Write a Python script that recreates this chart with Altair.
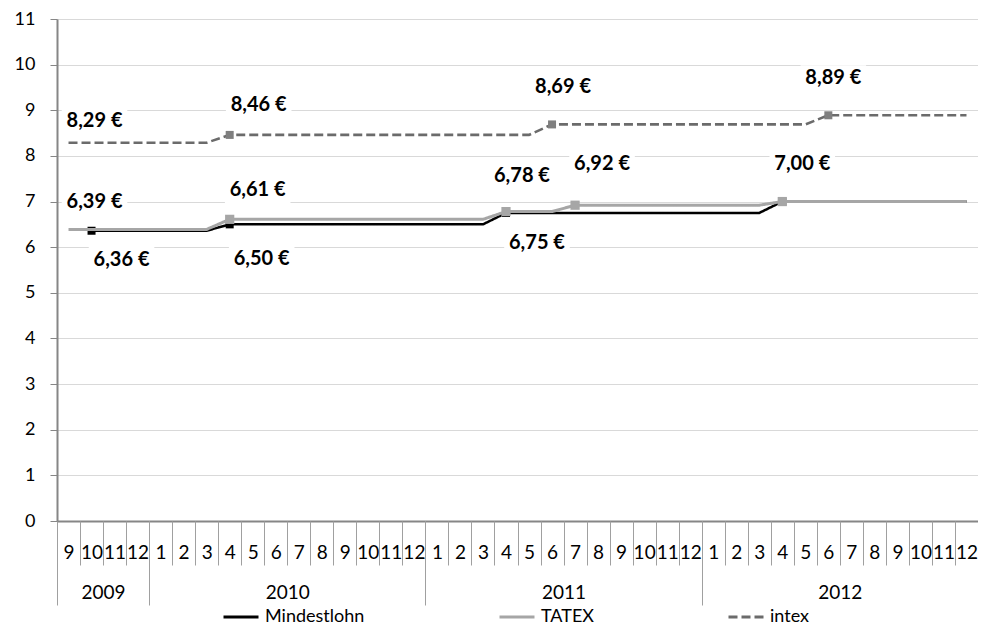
import altair as alt
import pandas as pd

# ---------------- data ----------------
MONTHS = ["9", "10", "11", "12"] + [str(m) for m in range(1, 13)] * 3
YEARS = ["2009", "2010", "2011", "2012"]
YEAR_SPANS = [4, 12, 12, 12]
SERIES = ["Mindestlohn", "TATEX", "intex"]
MINDESTLOHN = [None] + [6.36] * 6 + [6.50] * 12 + [6.75] * 12 + [7.00] * 9
TATEX = [6.39] * 7 + [6.61] * 12 + [6.78] * 3 + [6.92] * 9 + [7.00] * 9
INTEX = [8.29] * 7 + [8.46] * 14 + [8.69] * 12 + [8.89] * 7
MARKER_IDX = {"Mindestlohn": [1, 7, 19, 31], "TATEX": [7, 19, 22, 31], "intex": [7, 21, 33]}
# labelled points: (series, month index)
LABEL_POINTS = [("intex", 0), ("intex", 7), ("intex", 21), ("intex", 33),
                ("TATEX", 0), ("TATEX", 7), ("TATEX", 19), ("TATEX", 22), ("TATEX", 31),
                ("Mindestlohn", 1), ("Mindestlohn", 7), ("Mindestlohn", 19)]

# ---------------- styles ----------------
LABEL_OFFSETS = [(26, -22), (29, -30), (11, -37), (5, -37),
                 (26, -27), (28, -29), (16, -36), (27, -41), (20, -38),
                 (30, 29), (32, 35), (31, 30)]
COLORS = {"Mindestlohn": "#000000", "TATEX": "#a6a6a6", "intex": "#6b6b6b"}
MARKER_COLORS = {"Mindestlohn": "#000000", "TATEX": "#a6a6a6", "intex": "#7f7f7f"}
DASHES = {"Mindestlohn": [1, 0], "TATEX": [1, 0], "intex": [9, 4]}
WIDTHS = {"Mindestlohn": 2.5, "TATEX": 3, "intex": 2.6}
FONT = "Lato"

rows = []
for name, vals in zip(SERIES, [MINDESTLOHN, TATEX, INTEX]):
    for i, v in enumerate(vals):
        if v is None:
            continue
        rows.append({"series": name, "idx": i, "pos": i + 0.5, "value": v,
                     "label": f"{v:.2f}".replace(".", ",") + " €"})
df = pd.DataFrame(rows)

n = len(MONTHS)
xscale = alt.Scale(domain=[0, n], nice=False, zero=False)
yscale = alt.Scale(domain=[0, 11], nice=False, zero=False)
color_scale = alt.Scale(domain=SERIES, range=[COLORS[s] for s in SERIES])
dash_scale = alt.Scale(domain=SERIES, range=[DASHES[s] for s in SERIES])

month_expr = "[" + ",".join(f"'{m}'" for m in MONTHS) + "][floor(datum.value)]"
bounds = [0]
for s in YEAR_SPANS:
    bounds.append(bounds[-1] + s)
year_centers = [(bounds[k] + bounds[k + 1]) // 2 for k in range(len(YEARS))]
year_expr = "{" + ",".join(f"'{c}':'{y}'" for c, y in zip(year_centers, YEARS)) + "}[datum.value + '']"

legend = alt.Legend(title=None, orient="none", direction="horizontal",
                    legendX=165, legendY=579, symbolType="stroke",
                    symbolSize=1225, symbolStrokeWidth=3,
                    labelFont=FONT, labelFontSize=18, labelColor="#000000",
                    labelOffset=5, columnPadding=128, padding=0)

base = alt.Chart(df)

layers = []
for k, s in enumerate(SERIES):
    sub = base.transform_filter(alt.datum.series == s)
    if k == 0:
        xenc = alt.X("pos:Q", scale=xscale, title=None,
                     axis=alt.Axis(values=[i + 0.5 for i in range(n)], labelExpr=month_expr,
                                   ticks=False, tickSize=0, grid=False, domain=True,
                                   domainColor="#868686", domainWidth=2,
                                   labelFont=FONT, labelFontSize=19, labelColor="#000000",
                                   labelBaseline="middle", labelPadding=31, labelAngle=0,
                                   labelOverlap=False, labelFlush=False, orient="bottom"))
        yenc = alt.Y("value:Q", scale=yscale, title=None,
                     axis=alt.Axis(values=list(range(12)), grid=True, gridColor="#d9d9d9",
                                   gridWidth=1, domainColor="#868686", domainWidth=2,
                                   tickColor="#868686", tickSize=7, tickWidth=1,
                                   labelFont=FONT, labelFontSize=18, labelColor="#000000",
                                   labelPadding=15))
    else:
        xenc = alt.X("pos:Q", scale=xscale, axis=None)
        yenc = alt.Y("value:Q", scale=yscale, axis=None)
    line = sub.mark_line(strokeWidth=WIDTHS[s], strokeCap="butt").encode(
        x=xenc, y=yenc,
        color=alt.Color("series:N", scale=color_scale, legend=legend),
        strokeDash=alt.StrokeDash("series:N", scale=dash_scale, legend=legend),
    )
    layers.append(line)
    mk = sub.transform_filter(alt.FieldOneOfPredicate(field="idx", oneOf=MARKER_IDX[s])).mark_point(
        shape="square", filled=True, opacity=1, size=85 if s == "TATEX" else 64,
        color=MARKER_COLORS[s]).encode(
        x=alt.X("pos:Q", scale=xscale, axis=None),
        y=alt.Y("value:Q", scale=yscale, axis=None))
    layers.append(mk)

# data labels with white background boxes
box_shape = "M-1,-0.4L1,-0.4L1,0.4L-1,0.4Z"
for (s, i), (dx, dy) in zip(LABEL_POINTS, LABEL_OFFSETS):
    sub = base.transform_filter((alt.datum.series == s) & (alt.datum.idx == i))
    bg = sub.mark_point(shape=box_shape, filled=True, color="white", opacity=1, size=4300,
                        xOffset=dx, yOffset=dy).encode(
        x=alt.X("pos:Q", scale=xscale, axis=None),
        y=alt.Y("value:Q", scale=yscale, axis=None))
    tx = sub.mark_text(font=FONT, fontSize=20, fontWeight="bold", color="#000000",
                       align="center", baseline="middle", dx=dx, dy=dy).encode(
        x=alt.X("pos:Q", scale=xscale, axis=None),
        y=alt.Y("value:Q", scale=yscale, axis=None),
        text="label:N")
    layers += [bg, tx]

# divider axes (month boundaries, year boundaries) and year labels
ghost = alt.Chart(pd.DataFrame({"pos": [0.5]})).mark_point(opacity=0)
month_div = ghost.encode(x=alt.X("pos:Q", scale=xscale, title=None,
                                  axis=alt.Axis(values=list(range(n + 1)), labels=False, grid=False,
                                                domain=False, ticks=True, tickSize=44,
                                                tickColor="#a0a0a0", tickWidth=1, orient="bottom")))
year_div = ghost.encode(x=alt.X("pos:Q", scale=xscale, title=None,
                                 axis=alt.Axis(values=bounds, labels=False, grid=False,
                                               domain=False, ticks=True, tickSize=84,
                                               tickColor="#a0a0a0", tickWidth=1, orient="bottom")))
year_lab = ghost.encode(x=alt.X("pos:Q", scale=xscale, title=None,
                                 axis=alt.Axis(values=year_centers, labelExpr=year_expr, grid=False,
                                               domain=False, ticks=False, tickSize=0,
                                               labelFont=FONT, labelFontSize=19, labelColor="#000000",
                                               labelBaseline="middle", labelPadding=71,
                                               labelOverlap=False, labelFlush=False, orient="bottom")))

chart = alt.layer(*layers, month_div, year_div, year_lab).resolve_axis(
    x="independent", y="independent").resolve_scale(
    color="shared", strokeDash="shared").properties(
    width=921, height=502,
    autosize=alt.AutoSizeParams(type="none"),
    padding={"left": 49, "top": 11, "right": 0, "bottom": 104},
).configure_view(stroke="transparent", strokeWidth=0).configure(background="white")

chart.save("out.html", embed_options={"renderer": "svg", "actions": False})
